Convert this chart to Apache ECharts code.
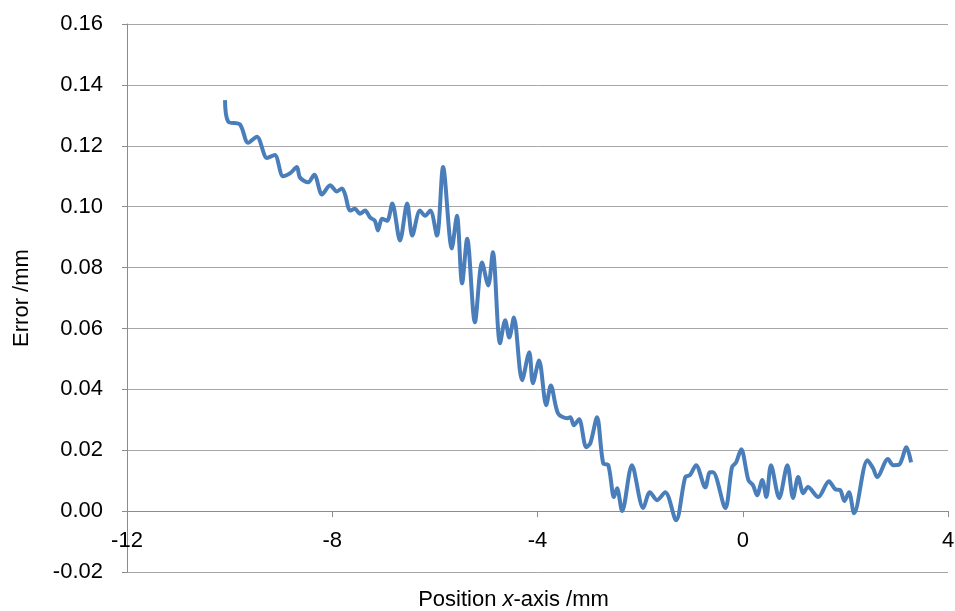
<!DOCTYPE html>
<html>
<head>
<meta charset="utf-8">
<script src="https://cdn.jsdelivr.net/npm/echarts@6/dist/echarts.min.js"></script>
<style>html,body{margin:0;padding:0;background:#fff}#c{width:955px;height:611px}</style>
</head>
<body>
<div id="c"></div>
<script>
var positionX = [-10.09,-10.03,-9.80,-9.64,-9.47,-9.27,-9.12,-8.96,-8.82,-8.69,-8.63,-8.47,-8.35,-8.20,-8.04,-7.91,-7.81,-7.75,-7.65,-7.56,-7.46,-7.36,-7.26,-7.17,-7.11,-7.03,-6.93,-6.83,-6.68,-6.54,-6.44,-6.29,-6.19,-6.09,-5.96,-5.84,-5.67,-5.57,-5.47,-5.37,-5.22,-5.08,-4.96,-4.87,-4.73,-4.63,-4.55,-4.46,-4.30,-4.16,-4.09,-3.97,-3.83,-3.74,-3.60,-3.42,-3.36,-3.29,-3.19,-3.05,-2.97,-2.84,-2.72,-2.62,-2.51,-2.45,-2.35,-2.16,-1.94,-1.81,-1.67,-1.51,-1.30,-1.12,-1.03,-0.91,-0.73,-0.64,-0.58,-0.34,-0.21,-0.13,-0.03,0.11,0.20,0.28,0.38,0.46,0.55,0.71,0.87,0.98,1.08,1.18,1.27,1.47,1.68,1.80,1.90,1.98,2.07,2.17,2.43,2.54,2.62,2.83,2.93,3.05,3.19,3.28];
var errorMm = [0.135,0.128,0.127,0.121,0.123,0.116,0.117,0.110,0.111,0.113,0.1096,0.108,0.1105,0.104,0.107,0.105,0.106,0.104,0.0987,0.0993,0.0977,0.0987,0.0964,0.0954,0.0922,0.096,0.0954,0.101,0.0889,0.101,0.0905,0.0987,0.097,0.0987,0.0905,0.113,0.0863,0.097,0.0748,0.0895,0.062,0.0817,0.0741,0.085,0.0551,0.0627,0.057,0.0636,0.043,0.0522,0.042,0.0495,0.0348,0.0413,0.0321,0.0305,0.0308,0.0282,0.0302,0.021,0.0223,0.0308,0.0157,0.0151,0.0046,0.0075,0.0,0.0151,0.001,0.0062,0.0036,0.0062,-0.003,0.0112,0.0118,0.0151,0.0078,0.0128,0.0128,0.001,0.0144,0.016,0.0203,0.0102,0.0085,0.0052,0.0102,0.0046,0.0151,0.0043,0.0151,0.0043,0.0112,0.0059,0.0079,0.0046,0.0098,0.0072,0.0069,0.0033,0.0062,-0.0007,0.0167,0.0141,0.0112,0.0171,0.0151,0.0153,0.021,0.016];
var xTicks = [-12, -8, -4, 0, 4];
var yTicks = [-0.02, 0, 0.02, 0.04, 0.06, 0.08, 0.10, 0.12, 0.14, 0.16];

var data = positionX.map(function (x, i) { return [x, errorMm[i]]; });
var FONT = '"Liberation Sans", Arial, sans-serif';
var FS = 22;
var chart = echarts.init(document.getElementById('c'), null, { renderer: 'canvas' });
chart.setOption({
  animation: false,
  grid: { left: 127, right: 7, top: 24, bottom: 39, containLabel: false, outerBoundsMode: 'none' },
  xAxis: {
    type: 'value',
    min: xTicks[0], max: xTicks[xTicks.length - 1], interval: 4,
    axisLine: { onZero: true, lineStyle: { color: '#8c8c8c', width: 1 } },
    axisTick: { show: true, length: 6, lineStyle: { color: '#8c8c8c' } },
    axisLabel: { margin: -42, color: '#000', fontFamily: FONT, fontSize: FS },
    splitLine: { show: false },
    name: '{n|Position }{i|x}{n|-axis /mm}',
    nameLocation: 'middle',
    nameGap: 17,
    nameTextStyle: {
      padding: [0, 48, 0, 0],
      rich: {
        n: { fontFamily: FONT, fontSize: FS, color: '#000' },
        i: { fontFamily: FONT, fontSize: FS, color: '#000', fontStyle: 'italic' }
      }
    }
  },
  yAxis: {
    type: 'value',
    min: yTicks[0], max: yTicks[yTicks.length - 1], interval: 0.02,
    axisLine: { show: true, onZero: false, lineStyle: { color: '#8c8c8c', width: 1 } },
    axisTick: { show: true, length: 5, lineStyle: { color: '#8c8c8c' } },
    axisLabel: { margin: 24, color: '#000', fontFamily: FONT, fontSize: FS,
      formatter: function (v) { return v.toFixed(2); } },
    splitLine: { show: true, lineStyle: { color: '#a6a6a6', width: 1 } },
    name: 'Error /mm',
    nameLocation: 'middle',
    nameGap: 94,
    nameRotate: 90,
    nameTextStyle: { fontFamily: FONT, fontSize: FS, color: '#000' }
  },
  series: [{
    type: 'line',
    data: data,
    smooth: 0.3,
    showSymbol: false,
    lineStyle: { color: '#4a7ebb', width: 4 },
    itemStyle: { color: '#4a7ebb' }
  }]
});
</script>
</body>
</html>
